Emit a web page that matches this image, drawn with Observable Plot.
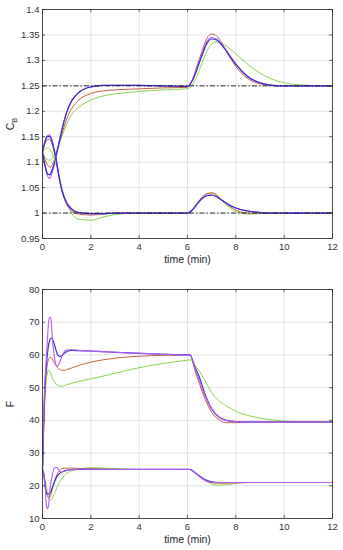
<!DOCTYPE html>
<html>
<head>
<meta charset="utf-8">
<script src="https://cdn.jsdelivr.net/npm/d3@7"></script>
<script src="https://cdn.jsdelivr.net/npm/@observablehq/plot@0.6"></script>
<style>
  html, body { margin: 0; padding: 0; background: #fff; }
  #chart svg { display: block; }
</style>
</head>
<body>
<div id="chart"></div>
<script>
// ---------- data ----------
const xTicks = [0, 2, 4, 6, 8, 10, 12];
const cbTicks = [0.95, 1, 1.05, 1.1, 1.15, 1.2, 1.25, 1.3, 1.35, 1.4];
const fTicks = [10, 20, 30, 40, 50, 60, 70, 80];
const cbSetpoints = [1.25, 1.0];
const xLabel = "time (min)";
const fLabel = "F";

const tCB = [0,0.1,0.2,0.3,0.4,0.5,0.6,0.7,0.8,1,1.2,1.5,2,2.5,3,4,5,6,6.2,6.4,6.6,6.8,7,7.2,7.4,7.7,8,8.5,9,9.5,10,11,12];
// upper set-point (1.25) responses
const cbHiBlue  = [1.12,1.095,1.078,1.075,1.085,1.1,1.12,1.142,1.163,1.198,1.22,1.237,1.248,1.251,1.251,1.251,1.25,1.249,1.26,1.283,1.31,1.333,1.342,1.34,1.331,1.312,1.292,1.268,1.256,1.251,1.25,1.25,1.25];
const cbHiMag   = [1.12,1.093,1.074,1.068,1.08,1.098,1.12,1.142,1.163,1.198,1.22,1.237,1.248,1.251,1.251,1.251,1.25,1.249,1.261,1.285,1.312,1.336,1.345,1.342,1.333,1.313,1.293,1.268,1.256,1.251,1.25,1.25,1.25];
const cbHiRed   = [1.12,1.105,1.095,1.09,1.095,1.105,1.12,1.138,1.155,1.185,1.205,1.222,1.235,1.24,1.242,1.244,1.246,1.247,1.262,1.29,1.318,1.343,1.352,1.348,1.336,1.31,1.288,1.264,1.254,1.251,1.25,1.25,1.25];
const cbHiGreen = [1.12,1.11,1.105,1.104,1.108,1.115,1.125,1.138,1.15,1.175,1.193,1.208,1.222,1.23,1.234,1.239,1.242,1.244,1.252,1.27,1.295,1.318,1.332,1.336,1.334,1.325,1.313,1.292,1.275,1.263,1.256,1.251,1.25];
// lower set-point (1.0) responses
const cbLoBlue  = [1.12,1.14,1.15,1.15,1.14,1.12,1.095,1.067,1.045,1.02,1.008,1.001,0.999,0.999,1,1,1,1,1.006,1.018,1.028,1.034,1.035,1.032,1.026,1.017,1.01,1.004,1.001,1,1,1,1];
const cbLoMag   = [1.12,1.141,1.152,1.153,1.142,1.121,1.096,1.068,1.046,1.02,1.008,1.001,0.999,0.999,1,1,1,1,1.006,1.018,1.029,1.035,1.036,1.033,1.026,1.017,1.01,1.004,1.001,1,1,1,1];
const cbLoRed   = [1.12,1.135,1.145,1.145,1.135,1.117,1.093,1.066,1.044,1.017,1.004,0.998,0.996,0.998,1,1,1,1,1.006,1.019,1.031,1.038,1.04,1.036,1.027,1.015,1.006,1.0,1,1,1,1,1];
const cbLoGreen = [1.12,1.125,1.128,1.125,1.118,1.105,1.09,1.07,1.05,1.02,1.0,0.988,0.986,0.992,0.997,1,1,1,1.005,1.017,1.03,1.038,1.039,1.034,1.025,1.012,1.003,0.998,0.999,1,1,1,1];

const tF = [0,0.05,0.1,0.15,0.2,0.25,0.3,0.35,0.4,0.5,0.6,0.7,0.8,0.9,1,1.2,1.5,2,2.5,3,4,5,6,6.1,6.3,6.5,6.7,7,7.3,7.6,8,8.5,9,10,11,12];
const fHiMag   = [25,42,52,58,64,70,71.5,71,66,59,56.5,57.5,59.5,61,61.5,61.6,61.4,61.2,61,60.8,60.5,60.2,60,60,56,52,48,43.5,41,40,39.6,39.5,39.5,39.5,39.5,39.5];
const fHiBlue  = [25,40,50,56,60,63,64.5,65.1,65,63,60.5,59.5,59.8,60.5,61,61.4,61.3,61.2,61,60.8,60.5,60.2,60,60,56.5,53,48.5,43.5,41,40,39.6,39.5,39.5,39.5,39.5,39.5];
const fHiRed   = [25,38,48,54,57,58.7,59.2,59.3,58.8,57.5,56.3,55.6,55.3,55.3,55.5,56,56.8,57.8,58.5,59,59.6,59.9,60,60,55.5,51,47,42.5,40.2,39.3,39.3,39.5,39.5,39.5,39.5,39.5];
const fHiGreen = [25,36,46,52,54.5,55.3,55,54,53,51.8,50.8,50.4,50.4,50.6,50.9,51.3,51.9,52.7,53.5,54.4,56.1,57.4,58.4,58.5,57,55,52.5,48.5,46,44.5,42.8,41.5,40.7,39.8,39.5,39.5];
const fLoMag   = [25,24,21,15,13,14,18,21,23,25.5,25.6,24.5,24.2,24.4,24.7,25,25.1,25.1,25,25,25,25,25,25,24,22.8,21.8,21.1,21,21,21,21,21,21,21,21];
const fLoBlue  = [25,23.5,20.5,18,17.5,17.5,17.6,18.3,19.3,21.3,22.8,23.7,24.2,24.5,24.7,24.9,25,25,25,25,25,25,25,25,24.1,23,22,21.2,21,21,21,21,21,21,21,21];
const fLoRed   = [25,23.5,21,18.5,17,16.4,16.4,17.3,18.8,21.5,23.5,24.6,25.2,25.4,25.4,25.4,25.3,25.2,25.1,25,25,25,25,25,24,22.8,21.7,21,20.8,20.8,20.9,21,21,21,21,21];
const fLoGreen = [25,24,22,20,18,16.7,15.8,15.6,16.1,17.7,19.5,21,22.2,23.1,23.8,24.6,25.2,25.5,25.4,25.2,25,25,25,25,24.2,23,21.8,20.6,20.2,20.3,20.7,21,21,21,21,21];

// ---------- style ----------
const C = { blue: "#3a2fd6", mag: "#b35cf2", red: "#c0623e", green: "#8ad64c" };
const font = "'Liberation Sans', Arial, Helvetica, sans-serif";
const W = 343, ML = 42, MR = 11;

function lines(t, arr) {
  return arr.map(([v, c, w]) => Plot.line(v, {x: (d, i) => t[i], y: d => d, stroke: c, strokeWidth: w, curve: "monotone-x"}));
}

function frameTicks(xT, yT, innerW, innerH) {
  const L = 3;
  return [
    Plot.ruleX(xT, {x: d => d, insetTop: innerH - L, stroke: "#262626", strokeWidth: 0.7}),
    Plot.ruleX(xT, {x: d => d, insetBottom: innerH - L, stroke: "#262626", strokeWidth: 0.7}),
    Plot.ruleY(yT, {y: d => d, insetRight: innerW - L, stroke: "#262626", strokeWidth: 0.7}),
    Plot.ruleY(yT, {y: d => d, insetLeft: innerW - L, stroke: "#262626", strokeWidth: 0.7})
  ];
}

function makePlot({height, mt, mb, yDomain, yTicks, series, extra = [], yFmt}) {
  const innerW = W - ML - MR, innerH = height - mt - mb;
  return Plot.plot({
    width: W, height,
    marginLeft: ML, marginRight: MR, marginTop: mt, marginBottom: mb,
    style: {fontFamily: font, fontSize: "9px", color: "#333", background: "#fff"},
    x: {domain: [0, 12]},
    y: {domain: yDomain},
    marks: [
      Plot.gridX(xTicks, {stroke: "#dcdcdc", strokeOpacity: 1, strokeWidth: 0.8}),
      Plot.gridY(yTicks, {stroke: "#dcdcdc", strokeOpacity: 1, strokeWidth: 0.8}),
      ...series,
      ...extra,
      Plot.frame({stroke: "#262626", strokeWidth: 0.8}),
      ...frameTicks(xTicks, yTicks, innerW, innerH),
      Plot.axisX(xTicks, {tickSize: 0, tickPadding: 5, label: null, fill: "#333", fontSize: 9.5}),
      Plot.axisY(yTicks, {tickSize: 0, tickPadding: 3, label: null, tickFormat: yFmt, fill: "#333", fontSize: 9.5}),
      Plot.text([xLabel], {text: d => d, frameAnchor: "bottom", dy: 24, fontSize: 10.5, fill: "#262626"})
    ]
  });
}

const fmt = d => String(+d.toFixed(2));

const topChart = makePlot({
  height: 272, mt: 9, mb: 34,
  yDomain: [0.95, 1.4], yTicks: cbTicks, yFmt: fmt,
  series: lines(tCB, [
    [cbHiGreen, C.green, 1], [cbHiRed, C.red, 1], [cbHiMag, C.mag, 1.2], [cbHiBlue, C.blue, 1.2],
    [cbLoGreen, C.green, 1], [cbLoRed, C.red, 1], [cbLoMag, C.mag, 1.2], [cbLoBlue, C.blue, 1.2]
  ]),
  extra: [Plot.ruleY(cbSetpoints, {y: d => d, stroke: "#1a1a1a", strokeWidth: 0.9, strokeDasharray: "5,2,1.5,2"})]
});

const bottomChart = makePlot({
  height: 278, mt: 17, mb: 32,
  yDomain: [10, 80], yTicks: fTicks, yFmt: fmt,
  series: lines(tF, [
    [fHiGreen, C.green, 1], [fHiRed, C.red, 1], [fHiBlue, C.blue, 1.2], [fHiMag, C.mag, 1.1],
    [fLoGreen, C.green, 1], [fLoRed, C.red, 1], [fLoBlue, C.blue, 1.2], [fLoMag, C.mag, 1.1]
  ])
});

function yTitle(svg, cy, main, sub) {
  const t = d3.select(svg).append("text")
    .attr("transform", `translate(14,${cy}) rotate(-90)`)
    .attr("text-anchor", "middle")
    .attr("font-family", font)
    .attr("font-size", 10.5)
    .attr("fill", "#262626")
    .text(main);
  if (sub) t.append("tspan").attr("font-size", 7.5).attr("dy", "0.35em").text(sub);
}
yTitle(topChart, 124, "C", "B");
yTitle(bottomChart, 132, fLabel);

document.getElementById("chart").append(topChart, bottomChart);
</script>
</body>
</html>
